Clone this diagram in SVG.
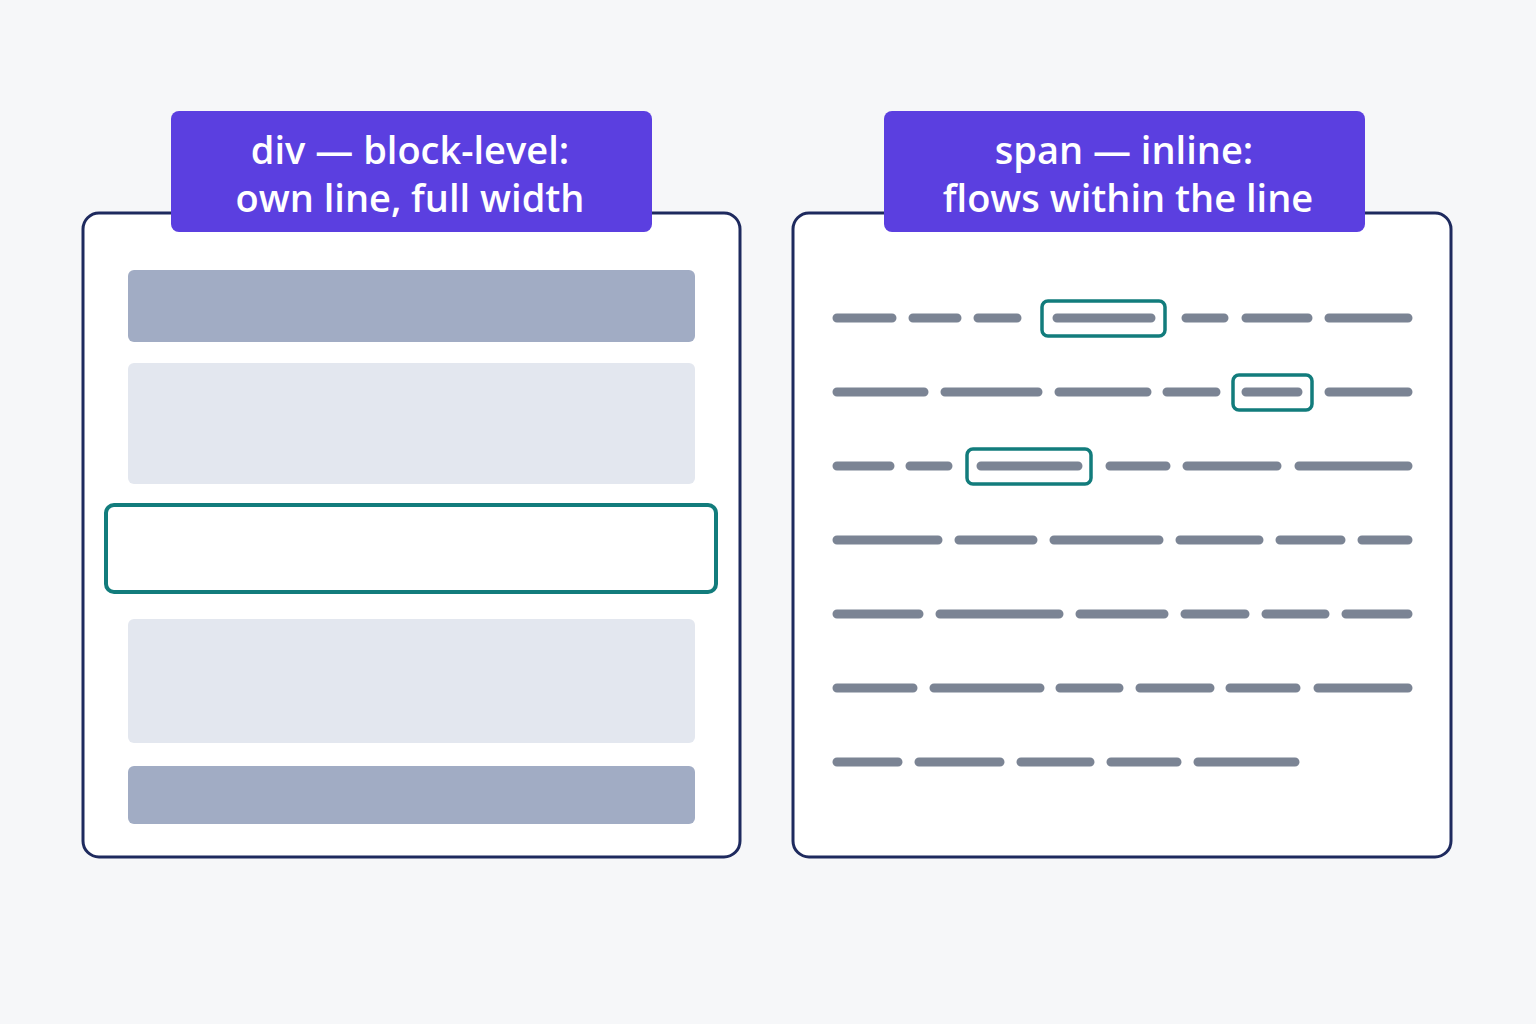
<svg xmlns="http://www.w3.org/2000/svg" width="1536" height="1024" viewBox="0 0 1536 1024">
<style>
.panel{fill:#fff;stroke:#1e2a5e;stroke-width:3}
.lbl{fill:#5b3fe0}
.t{fill:#fff;font-family:"Open Sans","Liberation Sans",sans-serif;font-size:38px;font-weight:600;text-anchor:middle}
.d{stroke:#7b8494;stroke-width:9;stroke-linecap:round;fill:none}
.hl{fill:none;stroke:#127c7c;stroke-width:3.5}
</style>
<rect width="1536" height="1024" fill="#f6f7f9"/>
<g id="div-panel">
<rect class="panel" x="83" y="213" width="657" height="644" rx="16"/>
<rect x="128" y="270" width="567" height="72" rx="6" fill="#a1acc4"/>
<rect x="128" y="363" width="567" height="121" rx="6" fill="#e3e7ef"/>
<rect x="106" y="505" width="610" height="87" rx="8" fill="#fff" stroke="#127c7c" stroke-width="4"/>
<rect x="128" y="619" width="567" height="124" rx="6" fill="#e3e7ef"/>
<rect x="128" y="766" width="567" height="58" rx="6" fill="#a1acc4"/>
</g>
<g id="div-label">
<rect class="lbl" x="171" y="111" width="481" height="121" rx="8"/>
<text class="t" x="410" y="164">div —  block-level:</text>
<text class="t" x="410" y="212">own line, full width</text>
</g>
<g id="span-panel">
<rect class="panel" x="793" y="213" width="658" height="644" rx="16"/>
<path class="d" d="M837 318H892M913 318H957M978 318H1017M1057 318H1151M1186 318H1224M1246 318H1308M1329 318H1408
M837 392H924M945 392H1038M1059 392H1147M1167 392H1216M1246 392H1298M1329 392H1408
M837 466H890M910 466H948M981 466H1078M1110 466H1166M1187 466H1277M1299 466H1408
M837 540H938M959 540H1033M1054 540H1159M1180 540H1259M1280 540H1341M1362 540H1408
M837 614H919M940 614H1059M1080 614H1164M1185 614H1245M1266 614H1325M1346 614H1408
M837 688H913M934 688H1040M1060 688H1119M1140 688H1210M1230 688H1296M1318 688H1408
M837 762H898M919 762H1000M1021 762H1090M1111 762H1177M1198 762H1295"/>
<rect class="hl" x="1042" y="301" width="123" height="35" rx="6"/>
<rect class="hl" x="1233" y="375" width="79" height="35" rx="6"/>
<rect class="hl" x="967" y="449" width="124" height="35" rx="6"/>
</g>
<g id="span-label">
<rect class="lbl" x="884" y="111" width="481" height="121" rx="8"/>
<text class="t" x="1124" y="164">span — inline:</text>
<text class="t" x="1128" y="212">flows within the line</text>
</g>
</svg>
